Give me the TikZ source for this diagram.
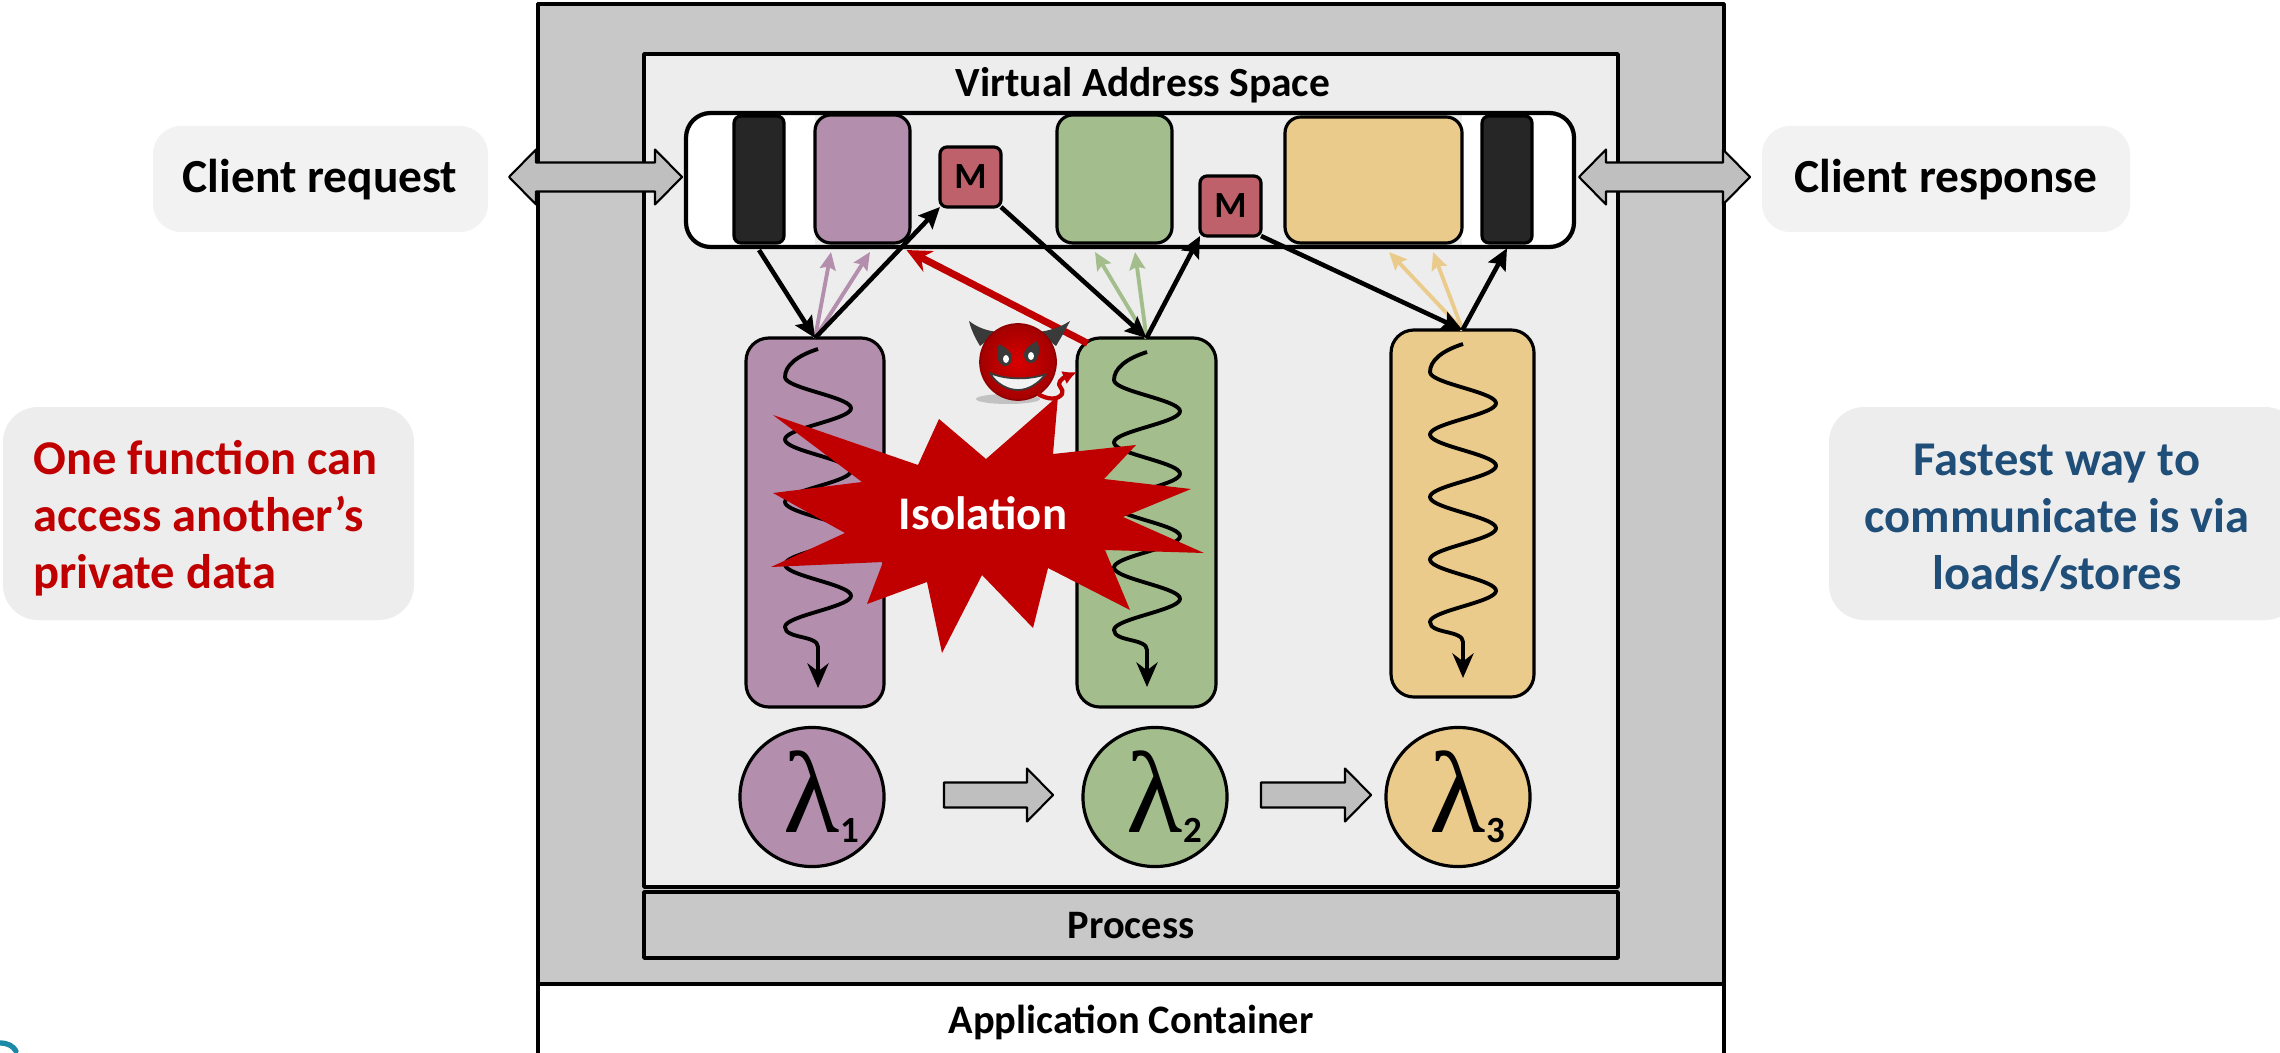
\documentclass[tikz,border=0pt]{standalone}
\usepackage{fontspec}
\setmainfont{Carlito}
\newfontfamily\lamfont{Liberation Serif}
\usetikzlibrary{shapes.geometric, arrows.meta, calc, fit}

\definecolor{boxgray}{HTML}{C8C8C8}
\definecolor{vasgray}{HTML}{EDEDED}
\definecolor{cligray}{HTML}{F2F2F2}
\definecolor{fnpurple}{HTML}{B48EAD}
\definecolor{fngreen}{HTML}{A3BE8C}
\definecolor{fnyellow}{HTML}{EBCB8B}
\definecolor{mred}{HTML}{BF616A}
\definecolor{barblack}{HTML}{262626}
\definecolor{alertred}{HTML}{C00000}
\definecolor{noteblue}{HTML}{1F4E79}
\definecolor{arrowgray}{HTML}{BFBFBF}
\definecolor{horngray}{HTML}{3A3A3A}
\definecolor{logoteal}{HTML}{1B8AA6}

% bold label text of a given size (pt)
\newcommand\txtsize[1]{\bfseries\fontsize{#1}{#1}\selectfont}
% lambda with a bold index hanging to the right
\newcommand\lamtext[1]{{\lamfont\fontsize{33}{33}\selectfont λ}\rlap{\raisebox{-2.8pt}{\bfseries\fontsize{10.5}{10.5}\selectfont #1}}}
% execution trace of one function: centre x, first left swing y, arrow tip y
\newcommand\wiggle[3]{%
  \draw[tracewave] ({#1},{#2-28}) .. controls ({#1-22},{#2-21}) and ({#1-33},{#2-11}) .. ({#1-33},{#2})
    -- plot[domain=0:1440, samples=145, variable=\t] ({#1-33*cos(\t)}, {#2+\t/360*62.5})
    .. controls ({#1-33},{#2+262}) and ({#1},{#2+258}) .. ({#1},{#2+270}) -- ({#1},{#3});}
% block arrow pointing right: start x, tip x, centre y
\newcommand\blockarrowR[3]{%
  \filldraw[blockarrow] (#1,{#3-12.5}) -- ({#2-26},{#3-12.5}) -- ({#2-26},{#3-26.5}) -- (#2,#3)
    -- ({#2-26},{#3+26.5}) -- ({#2-26},{#3+12.5}) -- (#1,{#3+12.5}) -- cycle;}
% two-headed block arrow: left tip x, right tip x, centre y
\newcommand\blockarrowLR[3]{%
  \filldraw[blockarrow] (#1,#3) -- ({#1+27},{#3-27.5}) -- ({#1+27},{#3-14.5}) -- ({#2-27},{#3-14.5})
    -- ({#2-27},{#3-27.5}) -- (#2,#3) -- ({#2-27},{#3+27.5}) -- ({#2-27},{#3+14.5})
    -- ({#1+27},{#3+14.5}) -- ({#1+27},{#3+27.5}) -- cycle;}

\begin{document}
\begin{tikzpicture}[x=0.01cm, y=-0.01cm, line join=round,
  region/.style={draw=black, line width=1pt, inner sep=0pt, outer sep=0pt},
  memblk/.style={draw=black, line width=0.9pt, rounded corners=4.5pt, inner sep=0pt, outer sep=0pt},
  mbox/.style={memblk, fill=mred, rounded corners=2pt},
  column/.style={draw=black, line width=0.9pt, rounded corners=6.5pt, inner sep=0pt, outer sep=0pt},
  lamnode/.style={ellipse, draw=black, line width=0.9pt, minimum width=1.44cm, minimum height=1.39cm, inner sep=0pt},
  access/.style={line width=1.3pt, -{Stealth[length=6pt,width=5.5pt,inset=1pt]}},
  peek/.style={line width=1.1pt, -{Stealth[length=5pt,width=4.5pt,inset=0.8pt]}},
  attack/.style={alertred, line width=2pt, -{Stealth[length=7pt,width=6.5pt]}},
  tracewave/.style={line width=1.1pt, -{Stealth[length=7pt,width=6pt]}},
  blockarrow/.style={fill=arrowgray, draw=black, line width=0.6pt},
  clientbox/.style={fill=cligray, rounded corners=8pt, inner sep=0pt, outer sep=0pt},
  notebox/.style={fill=vasgray, rounded corners=10pt, inner sep=0pt, outer sep=0pt}]

\useasboundingbox (0,0) rectangle (2280,1052);
\fill[white] (0,0) rectangle (2280,1052);

% ---------- application container, process, address space ----------
\node[region, fill=white, fit={(538,4) (1724,1080)}] (appc) {};
\node[region, fill=boxgray, fit={(538,4) (1724,984)}] (appgray) {};
\node[anchor=base, font=\txtsize{11.5}] (appname) at (1131,1033) {Application Container};

\node[region, fill=vasgray, fit={(644,54) (1618,887)}] (vas) {};
\node[region, fill=boxgray, fit={(644,892) (1618,958)}] (proc) {};
\node[anchor=base, font=\txtsize{11.5}] (procname) at (1131,938) {Process};
\node[anchor=base, font=\txtsize{11.8}] (vasname) at (1143,97) {Virtual Address Space};

% ---------- memory strip (white guard areas at both ends) ----------
\node[fill=vasgray, rounded corners=7pt, inner sep=0pt, outer sep=0pt, fit={(686,113) (1574,247)}] (mbar) {};
\begin{scope}
  \clip[rounded corners=7pt] (686,113) rectangle (1574,247);
  \fill[white] (686,113) rectangle (815,247);
  \fill[white] (1462,113) rectangle (1574,247);
\end{scope}
\draw[line width=1.2pt, rounded corners=7pt] (mbar.north west) rectangle (mbar.south east);
\node[memblk, fill=barblack, rounded corners=2pt, fit={(734,116) (784,243)}] (lbar) {};
\node[memblk, fill=fnpurple, fit={(815,115) (910,243)}] (pblk) {};
\node[mbox, fit={(940,147) (1001,207)}] (mA) {};
\node[font=\txtsize{10.5}] (mAtext) at (mA.center) {M};
\node[memblk, fill=fngreen, fit={(1057,115) (1172,243)}] (gblk) {};
\node[mbox, fit={(1200,176) (1261,236)}] (mB) {};
\node[font=\txtsize{10.5}] (mBtext) at (mB.center) {M};
\node[memblk, fill=fnyellow, fit={(1285,117) (1462,243)}] (yblk) {};
\node[memblk, fill=barblack, rounded corners=2pt, fit={(1482,116) (1532,243)}] (rbar) {};

% ---------- clients ----------
\node[clientbox, fit={(153,126) (488,232)}] (creq) {};
\node[anchor=base, font=\txtsize{13.5}] (creqtext) at (320,193) {Client request};
\node[clientbox, fit={(1762,126) (2130,232)}] (cres) {};
\node[anchor=base, font=\txtsize{13.5}] (crestext) at (1946,193) {Client response};
\blockarrowLR{509}{682}{177}
\blockarrowLR{1579}{1750}{177}

% ---------- side notes ----------
\node[notebox, fit={(3,407) (414,620)}] (noteL) {};
\node[anchor=west, align=left, inner sep=0pt, text=alertred, font=\bfseries\fontsize{13.8}{16.2}\selectfont]
  (noteLtext) at (33,518) {One function can\\access another’s\\private data};
\node[notebox, fit={(1829,407) (2300,620)}] (noteR) {};
\node[align=center, inner sep=0pt, text=noteblue, font=\bfseries\fontsize{13.8}{16.2}\selectfont]
  (noteRtext) at (2057,518) {Fastest way to\\communicate is via\\loads/stores};

% ---------- function columns ----------
\node[column, fill=fnpurple, fit={(746,338) (884,707)}] (pcol) {};
\node[column, fill=fngreen, fit={(1077,338) (1216,707)}] (gcol) {};
\node[column, fill=fnyellow, fit={(1391,330) (1534,697)}] (ycol) {};
\wiggle{818}{377}{688}
\wiggle{1147}{380}{687}
\wiggle{1463}{372}{678}

% ---------- lambdas ----------
\node[lamnode, fill=fnpurple] (lamA) at (812,797) {\lamtext{1}};
\node[lamnode, fill=fngreen] (lamB) at (1155,797) {\lamtext{2}};
\node[lamnode, fill=fnyellow] (lamC) at (1458,797) {\lamtext{3}};
\blockarrowR{944}{1053}{795}
\blockarrowR{1261}{1371}{795}

% ---------- memory accesses ----------
\coordinate (pA) at (831,252);
\coordinate (pB) at (870,252);
\coordinate (gA) at (1095,252);
\coordinate (gB) at (1135,252);
\coordinate (yA) at (1389,252);
\coordinate (yB) at (1433,252);
\draw[peek, fnpurple] (pcol.north) -- (pA);
\draw[peek, fnpurple] (pcol.north) -- (pB);
\draw[peek, fngreen] (gcol.north) -- (gA);
\draw[peek, fngreen] (gcol.north) -- (gB);
\draw[peek, fnyellow] (ycol.north) -- (yA);
\draw[peek, fnyellow] (ycol.north) -- (yB);

\draw[access] ([yshift=-2pt]lbar.south) -- (pcol.north);
\draw[access] (pcol.north) -- (mA.south west);
\draw[access] (mA.south east) -- (gcol.north);
\draw[access] (gcol.north) -- (mB.south west);
\draw[access] (mB.south east) -- (ycol.north);
\draw[access] (ycol.north) -- ([yshift=-1.5pt]rbar.south);

% ---------- isolation burst ----------
\fill[alertred] (773,415) -- (862,482) -- (773,493) -- (845,533) -- (771,567) -- (883,562)
  -- (867,604) -- (927,582) -- (942,653) -- (982,575) -- (1033,628) -- (1048,568)
  -- (1130,610) -- (1105,550) -- (1204,553) -- (1123,517) -- (1191,489) -- (1104,479)
  -- (1136,445) -- (1053,454) -- (1058,396) -- (986,459) -- (939,419) -- (918,465) -- cycle;
\node[anchor=base, text=white, font=\txtsize{13.3}] (isol) at (983,529) {Isolation};

% ---------- illegal access ----------
\draw[attack] ([shift={(3pt,-1.5pt)}]gcol.north west) -- ([shift={(-1pt,-2pt)}]pblk.south east);

% ---------- devil ----------
\begin{scope}[shift={(1018,362)}]
  \fill[black, opacity=0.18] (-10,37) ellipse [x radius=32, y radius=5];
  \fill[horngray] (-38,-16) .. controls (-44,-26) and (-47,-33) .. (-49,-41)
    .. controls (-40,-34) and (-30,-31) .. (-20,-30) -- cycle;
  \fill[horngray] (38,-16) .. controls (44,-26) and (48,-33) .. (52,-41)
    .. controls (41,-34) and (30,-31) .. (20,-30) -- cycle;
  \shade[inner color=red!85!black, outer color=alertred!85!black] (0,0) circle [radius=38];
  \draw[alertred!75!black, line width=0.5pt] (0,0) circle [radius=38];
  \fill[horngray] (-19,-18) .. controls (-12,-14) and (-6,-10) .. (-6,-5)
    .. controls (-6,2) and (-10,4) .. (-13,4) .. controls (-18,4) and (-21,-2) .. (-21,-8)
    .. controls (-21,-13) and (-20,-16) .. (-19,-18) -- cycle;
  \fill[horngray] (19,-21) .. controls (12,-17) and (6,-13) .. (6,-8)
    .. controls (6,-1) and (10,1) .. (13,1) .. controls (18,1) and (21,-5) .. (21,-11)
    .. controls (21,-16) and (20,-19) .. (19,-21) -- cycle;
  \fill[white] (-12,-3) ellipse [x radius=3, y radius=4];
  \fill[white] (13,-6) ellipse [x radius=3, y radius=4];
  \filldraw[fill=white!90!gray, draw=horngray, line width=0.5pt] (-28,11) .. controls (-12,18) and (12,18) .. (28,12)
    .. controls (20,22) and (10,28) .. (0,28) .. controls (-10,28) and (-22,22) .. (-28,11) -- cycle;
  \draw[alertred, line width=1.2pt, -{Latex[length=4pt,width=4pt]}] (20,32) .. controls (30,38) and (40,38) .. (44,32)
    .. controls (47,27) and (38,24) .. (42,19) .. controls (46,14) and (52,13) .. (59,10);
\end{scope}

% ---------- corner mark ----------
\draw[logoteal, line width=1.5pt, line cap=round] (0,1043) .. controls (8,1043) and (13,1046) .. (16,1051);

\end{tikzpicture}
\end{document}
